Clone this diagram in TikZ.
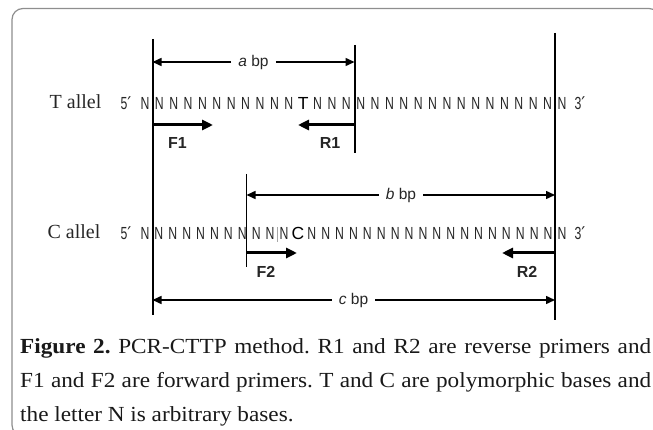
\documentclass[tikz,border=0pt]{standalone}
\usepackage{fontspec}
\setmainfont{Liberation Serif}
\setsansfont{Liberation Sans}
\newfontfamily\seqfont[FakeStretch=0.7]{Liberation Sans}
\newfontfamily\capfont[FakeStretch=1.08]{Liberation Serif}
\newfontfamily\primefont{DejaVu Sans}
\usetikzlibrary{arrows.meta}
\definecolor{seqgray}{HTML}{262626}
\definecolor{framegray}{HTML}{8E8E8E}
\tikzstyle{base} = [font=\seqfont\fontsize{17.5}{19}\selectfont, text=seqgray, inner sep=0pt]
\tikzstyle{snp} = [font=\sffamily\fontsize{17.5}{19}\selectfont, text=black, inner sep=0pt]

\begin{document}
\begin{tikzpicture}[
    x=1pt, y=-1pt,
    guide/.style={line width=2pt},
    thinguide/.style={line width=1.3pt},
    tick/.style={line width=0.6pt, black!35},
    dim/.style={line width=1.5pt, -{Triangle[length=9pt,width=8pt]}},
    primer/.style={line width=3pt, -{Triangle[length=11pt,width=10pt]}},
    len/.style={font=\sffamily\fontsize{15.5}{17}\selectfont, text=seqgray, inner xsep=7pt, inner ysep=2pt},
    primerlab/.style={font=\sffamily\bfseries\fontsize{16}{18}\selectfont, text=black!85, inner sep=0pt},
    allel/.style={font=\fontsize{20}{22}\selectfont, text=black!85, inner sep=0pt},
    caption/.style={text width=631pt, align=justify, inner sep=0pt, font=\capfont\frenchspacing\fontsize{21.5}{34}\selectfont, text=black!90}
]
    \useasboundingbox (0,0) rectangle (653,430);
    \clip (0,0) rectangle (653,430);
    \draw[framegray, line width=1.2pt, rounded corners=11pt] (12,8.5) rectangle (660,436);

    % guide lines
    \coordinate (aTop) at (152.5,39);  \coordinate (aBot) at (152.5,315);
    \coordinate (bTop) at (354.5,45);  \coordinate (bBot) at (354.5,153);
    \coordinate (cTop) at (555,33);    \coordinate (cBot) at (555,320);
    \coordinate (dTop) at (246.5,174); \coordinate (dBot) at (246.5,267);
    \draw[guide] (aTop) -- (aBot);
    \draw[guide] (bTop) -- (bBot);
    \draw[thinguide] (cTop) -- (cBot);
    \draw[thinguide] (dTop) -- (dBot);

    % T allel
    \node[allel] (tAllel) at (75.5,102) {T allel};
    \node[base] (tEnd5) at (126,103) {5{\primefont′}};
    \foreach \i in {1,...,11,13,14,...,30}
        \node[base] (t\i) at ({145+(\i-1)*14.38},103) {N};
    \node[snp] (t12) at ({145+11*14.38},103) {T};
    \node[base] (tEnd3) at (580,103) {3{\primefont′}};

    \node[len] (abp) at (253.5,62) {\textit{a} bp};
    \draw[dim] (abp) -- (abp -| aTop);
    \draw[dim] (abp) -- (abp -| bTop);

    \coordinate (f1) at (213,125);
    \draw[primer] (f1 -| aTop) -- (f1);
    \node[primerlab] (F1) at (177.5,143) {F1};
    \coordinate (r1) at (298,125);
    \draw[primer] (r1 -| bTop) -- (r1);
    \node[primerlab] (R1) at (330,143) {R1};

    % C allel
    \node[allel] (cAllel) at (74,232) {C allel};
    \node[base] (cEnd5) at (126,233) {5{\primefont′}};
    \foreach \i in {1,...,11,13,14,...,31}
        \node[base] (c\i) at ({145+(\i-1)*13.9},233) {N};
    \node[snp] (c12) at ({145+11*13.9},233) {C};
    \node[base] (cEnd3) at (580,233) {3{\primefont′}};
    \coordinate (nick) at (277,227);
    \draw[tick] (nick) -- ++(0,15);

    \node[len] (bbp) at (401,195) {\textit{b} bp};
    \draw[dim] (bbp) -- (bbp -| dTop);
    \draw[dim] (bbp) -- (bbp -| cTop);

    \coordinate (f2) at (297,253);
    \draw[primer] (f2 -| dTop) -- (f2);
    \node[primerlab] (F2) at (266,272) {F2};
    \coordinate (r2) at (502,253);
    \draw[primer] (r2 -| cTop) -- (r2);
    \node[primerlab] (R2) at (527,272) {R2};

    \node[len] (cbp) at (353.5,300) {\textit{c} bp};
    \draw[dim] (cbp) -- (cbp -| aTop);
    \draw[dim] (cbp) -- (cbp -| cTop);

    % caption
    \node[caption, anchor=north west] (cap) at (20,338.5) {\textbf{Figure 2.} PCR-CTTP method. R1 and R2 are reverse primers and\linebreak F1 and F2 are forward primers. T and C are polymorphic bases and\linebreak the letter N is arbitrary bases.};
\end{tikzpicture}
\end{document}
